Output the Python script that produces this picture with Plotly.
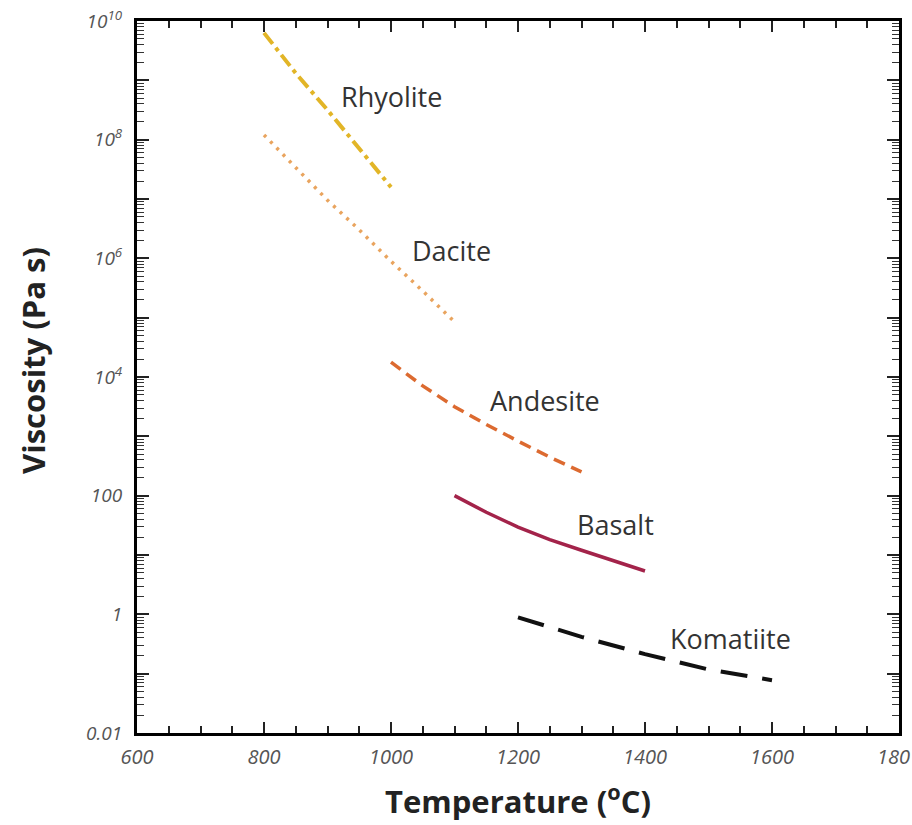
import plotly.graph_objects as go

# ---- data ----
rhy_T = [800, 850, 900, 950, 1000]
rhy_logv = [9.8, 9.12, 8.5, 7.85, 7.2]

dac_T = [800, 850, 900, 950, 1000, 1050, 1100]
dac_logv = [8.08, 7.52, 6.98, 6.48, 5.95, 5.45, 4.93]

and_T = [1000, 1050, 1100, 1150, 1200, 1250, 1300]
and_logv = [4.25, 3.85, 3.5, 3.2, 2.92, 2.65, 2.4]

bas_T = [1100, 1150, 1200, 1250, 1300, 1350, 1400]
bas_logv = [2.0, 1.72, 1.47, 1.26, 1.08, 0.9, 0.73]

kom_T = [1200, 1300, 1400, 1500, 1600]
kom_logv = [-0.05, -0.38, -0.67, -0.93, -1.11]

label_names = ["Rhyolite", "Dacite", "Andesite", "Basalt", "Komatiite"]
label_T = [1000, 1096, 1242, 1353, 1534]
label_logv = [8.72, 6.14, 3.61, 1.51, -0.40]

y_tickvals_exp = list(range(-2, 11))
y_ticktext = {10: "10<sup>10</sup>", 8: "10<sup>8</sup>", 6: "10<sup>6</sup>",
              4: "10<sup>4</sup>", 2: "100", 0: "1", -2: "0.01"}
x_tickvals = [600, 800, 1000, 1200, 1400, 1600, 1800]
x_ticktext = ["600", "800", "1000", "1200", "1400", "1600", ""]
x_last_label = "180"   # shown cropped in the reference, at the right edge

x_title = "Temperature (<sup>o</sup>C)"
y_title = "Viscosity (Pa s)"

def pw(lst):
    return [10 ** v for v in lst]

y_minor_vals = [m * 10 ** e for e in range(-2, 10) for m in range(2, 10)]

tick_font = dict(family="Open Sans", size=20, color="#555", style="italic")

fig = go.Figure()
fig.add_trace(go.Scatter(x=rhy_T, y=pw(rhy_logv), mode="lines", name="Rhyolite",
                         line=dict(color="#e2b527", width=4, dash="14px,5px,4px,5px")))
fig.add_trace(go.Scatter(x=dac_T, y=pw(dac_logv), mode="lines", name="Dacite",
                         line=dict(color="#e9a45e", width=3.5, dash="3px,6px")))
fig.add_trace(go.Scatter(x=and_T, y=pw(and_logv), mode="lines", name="Andesite",
                         line=dict(color="#dc6a30", width=3.5, dash="12px,7px")))
fig.add_trace(go.Scatter(x=bas_T, y=pw(bas_logv), mode="lines", name="Basalt",
                         line=dict(color="#a3234a", width=3.5)))
fig.add_trace(go.Scatter(x=kom_T, y=pw(kom_logv), mode="lines", name="Komatiite",
                         line=dict(color="#111111", width=4, dash="27px,15px")))

for name, t, v in zip(label_names, label_T, label_logv):
    fig.add_annotation(x=t, y=v, text=name, showarrow=False,
                       font=dict(family="Open Sans", size=27, color="#333333"))

# axis titles
fig.add_annotation(x=0.5, y=-0.094, xref="paper", yref="paper", text=x_title,
                   showarrow=False, xanchor="center", yanchor="middle",
                   font=dict(family="Open Sans", size=31, color="#222", weight="bold"))
fig.add_annotation(x=-0.1365, y=0.524, xref="paper", yref="paper", text=y_title,
                   showarrow=False, xanchor="center", yanchor="middle", textangle=-90,
                   font=dict(family="Open Sans", size=31, color="#222", weight="bold"))
# cropped last x tick label, kept inside the page
fig.add_annotation(x=1.0171, y=-0.033, xref="paper", yref="paper", text=x_last_label,
                   showarrow=False, xanchor="right", yanchor="middle", font=tick_font)

fig.update_xaxes(range=[600, 1800], tickmode="array", tickvals=x_tickvals, ticktext=x_ticktext,
                 automargin=False, ticklabelstandoff=4,
                 ticks="inside", ticklen=11, tickwidth=1.5, tickcolor="#222",
                 minor=dict(dtick=50, tick0=600, ticks="inside", ticklen=7, tickwidth=1.5, tickcolor="#222"),
                 showline=True, linecolor="black", linewidth=3, mirror="ticks",
                 showgrid=False, zeroline=False, tickfont=tick_font)
fig.update_yaxes(type="log", range=[-2, 10], tickmode="array",
                 tickvals=[10 ** e for e in y_tickvals_exp],
                 ticktext=[y_ticktext.get(e, "") for e in y_tickvals_exp],
                 automargin=False, ticklabelstandoff=8,
                 ticks="inside", ticklen=12, tickwidth=1.5, tickcolor="#222",
                 minor=dict(tickmode="array", tickvals=y_minor_vals, ticks="inside",
                            ticklen=7, tickwidth=1.2, tickcolor="#333"),
                 showline=True, linecolor="black", linewidth=3, mirror="ticks",
                 showgrid=False, zeroline=False,
                 tickfont=dict(family="Open Sans", size=19, color="#555", style="italic"))

fig.update_layout(width=912, height=825, plot_bgcolor="white", paper_bgcolor="white",
                  showlegend=False, margin=dict(l=137, r=13, t=21, b=92))

fig.write_html("out.html")
